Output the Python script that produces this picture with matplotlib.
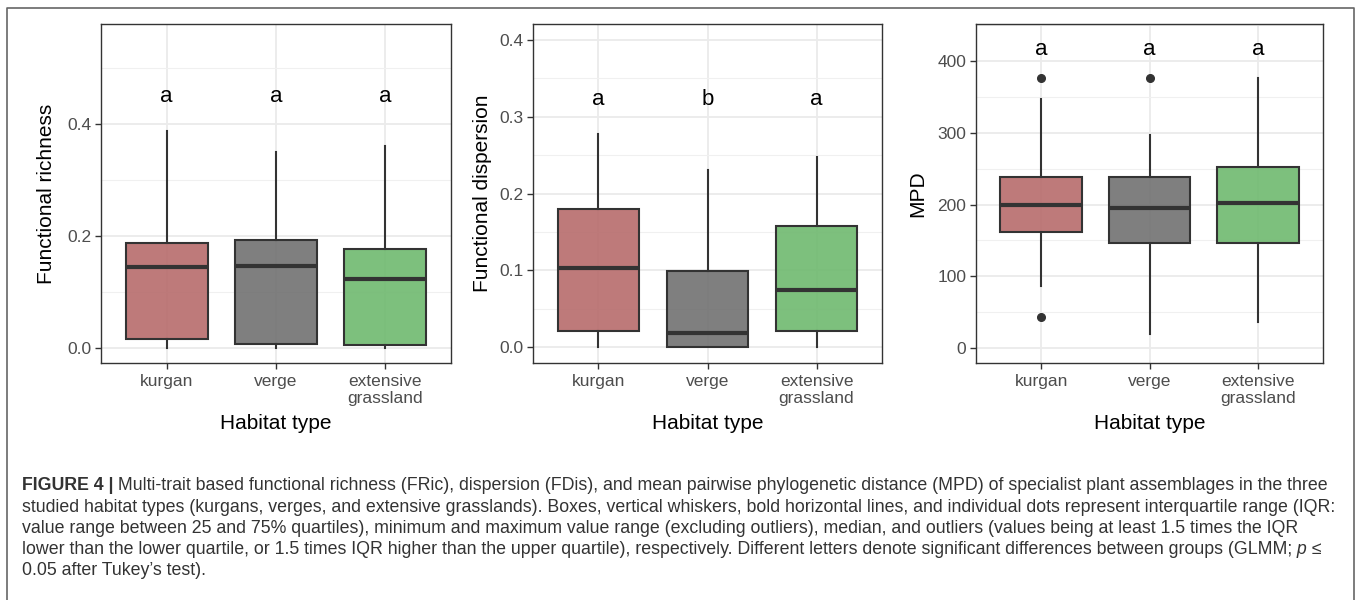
import matplotlib.pyplot as plt
from matplotlib.colors import to_rgb
from matplotlib.lines import Line2D
from matplotlib.ticker import MultipleLocator, FormatStrFormatter

plt.rcParams['font.family'] = ['Liberation Sans', 'DejaVu Sans']

habitats = ["kurgan", "verge", "extensive\ngrassland"]
box_colors = ["#b76c6c", "#717171", "#6fb96f"]

# functional richness
fric_lo = [0.0, 0.0, 0.0]
fric_q1 = [0.016, 0.007, 0.006]
fric_med = [0.144, 0.147, 0.124]
fric_q3 = [0.187, 0.192, 0.176]
fric_hi = [0.388, 0.351, 0.361]
fric_out = [[], [], []]
fric_letters = ["a", "a", "a"]

# functional dispersion
fdis_lo = [0.0, 0.0, 0.0]
fdis_q1 = [0.021, 0.0, 0.021]
fdis_med = [0.103, 0.018, 0.074]
fdis_q3 = [0.180, 0.099, 0.158]
fdis_hi = [0.277, 0.231, 0.248]
fdis_out = [[], [], []]
fdis_letters = ["a", "b", "a"]

# MPD
mpd_lo = [86, 20, 36]
mpd_q1 = [162, 146, 146]
mpd_med = [200, 195, 202]
mpd_q3 = [238, 238, 253]
mpd_hi = [347, 297, 376]
mpd_out = [[376, 43], [376], []]
mpd_letters = ["a", "a", "a"]

W, H = 1358, 600
fig = plt.figure(figsize=(W / 100, H / 100), dpi=100, facecolor="white")

panels = [
    dict(rect=(101, 24, 451, 363), lo=fric_lo, q1=fric_q1, med=fric_med, q3=fric_q3, hi=fric_hi,
         out=fric_out, letters=fric_letters, ly=0.45, ylim=(-0.027, 0.579), major=0.2, minor=0.1,
         fmt="%.1f", ylabel="Functional richness", ylx=47),
    dict(rect=(533, 24, 882, 363), lo=fdis_lo, q1=fdis_q1, med=fdis_med, q3=fdis_q3, hi=fdis_hi,
         out=fdis_out, letters=fdis_letters, ly=0.323, ylim=(-0.021, 0.421), major=0.1, minor=0.05,
         fmt="%.1f", ylabel="Functional dispersion", ylx=482),
    dict(rect=(976, 24, 1323, 363), lo=mpd_lo, q1=mpd_q1, med=mpd_med, q3=mpd_q3, hi=mpd_hi,
         out=mpd_out, letters=mpd_letters, ly=417, ylim=(-21, 452), major=100, minor=50,
         fmt="%d", ylabel="MPD", ylx=918),
]

for p in panels:
    x0, y0, x1, y1 = p["rect"]
    ax = fig.add_axes([x0 / W, 1 - y1 / H, (x1 - x0) / W, (y1 - y0) / H])
    stats = []
    for i in range(3):
        stats.append(dict(whislo=p["lo"][i], q1=p["q1"][i], med=p["med"][i],
                          q3=p["q3"][i], whishi=p["hi"][i], fliers=p["out"][i]))
    bp = ax.bxp(stats, positions=[1, 2, 3], widths=0.75, patch_artist=True, showcaps=False,
                boxprops=dict(edgecolor="#333333", linewidth=1.5),
                whiskerprops=dict(color="#333333", linewidth=1.5),
                medianprops=dict(color="#333333", linewidth=3, solid_capstyle="butt"),
                flierprops=dict(marker="o", markerfacecolor="#333333", markeredgecolor="#333333",
                                markersize=5.5))
    for patch, c in zip(bp["boxes"], box_colors):
        patch.set_facecolor((*to_rgb(c), 0.9))
    for i, l in enumerate(p["letters"]):
        ax.text(i + 1, p["ly"], l, ha="center", va="center", fontsize=16, color="black")

    ax.set_xlim(0.4, 3.6)
    ax.set_ylim(*p["ylim"])
    ax.set_xticks([1, 2, 3])
    ax.set_xticklabels(habitats, fontsize=12.5, color="#4d4d4d", linespacing=1.15)
    ax.yaxis.set_major_locator(MultipleLocator(p["major"]))
    ax.yaxis.set_minor_locator(MultipleLocator(p["minor"]))
    ax.yaxis.set_major_formatter(FormatStrFormatter(p["fmt"]))
    ax.tick_params(axis="y", which="major", labelsize=12.5, labelcolor="#4d4d4d", color="#333333",
                   length=4, width=1, pad=3)
    ax.tick_params(axis="x", which="major", color="#333333", length=4, width=1, pad=4)
    ax.tick_params(which="minor", length=0)
    ax.grid(True, which="major", color="#ebebeb", linewidth=1.3)
    ax.grid(True, which="minor", axis="y", color="#f0f0f0", linewidth=0.8)
    ax.set_axisbelow(True)
    for s in ax.spines.values():
        s.set_color("#333333")
        s.set_linewidth(1)
    ax.set_xlabel("Habitat type", fontsize=15, labelpad=6)
    fig.text(p["ylx"] / W, 1 - ((y0 + y1) / 2) / H, p["ylabel"], rotation=90,
             ha="center", va="center", fontsize=15)

# outer frame (open at the bottom, as in the page crop)
fx = [7 / W, 7 / W, 1354 / W, 1354 / W]
fy = [0, 1 - 8 / H, 1 - 8 / H, 0]
fig.lines.append(Line2D(fx, fy, transform=fig.transFigure, color="#666666", linewidth=1.2))

# caption
cap_size = 12.8
cap_color = "#333333"
renderer = fig.canvas.get_renderer()


def draw_line(x, y, segments):
    for s, weight, style in segments:
        t = fig.text(x / W, 1 - y / H, s, fontsize=cap_size, color=cap_color,
                     fontweight=weight, fontstyle=style, va="center", ha="left")
        x = t.get_window_extent(renderer).x1


caption = [
    [("FIGURE 4 |", "bold", "normal"),
     (" Multi-trait based functional richness (FRic), dispersion (FDis), and mean pairwise phylogenetic "
      "distance (MPD) of specialist plant assemblages in the three", "normal", "normal")],
    [("studied habitat types (kurgans, verges, and extensive grasslands). Boxes, vertical whiskers, bold "
      "horizontal lines, and individual dots represent interquartile range (IQR:", "normal", "normal")],
    [("value range between 25 and 75% quartiles), minimum and maximum value range (excluding outliers), "
      "median, and outliers (values being at least 1.5 times the IQR", "normal", "normal")],
    [("lower than the lower quartile, or 1.5 times IQR higher than the upper quartile), respectively. "
      "Different letters denote significant differences between groups (GLMM;", "normal", "normal"),
     (" p", "normal", "italic"), (" \u2264", "normal", "normal")],
    [("0.05 after Tukey\u2019s test).", "normal", "normal")],
]
for k, line in enumerate(caption):
    draw_line(22, 486 + k * 21.2, line)

fig.savefig("out.png", dpi=100, facecolor="white")
